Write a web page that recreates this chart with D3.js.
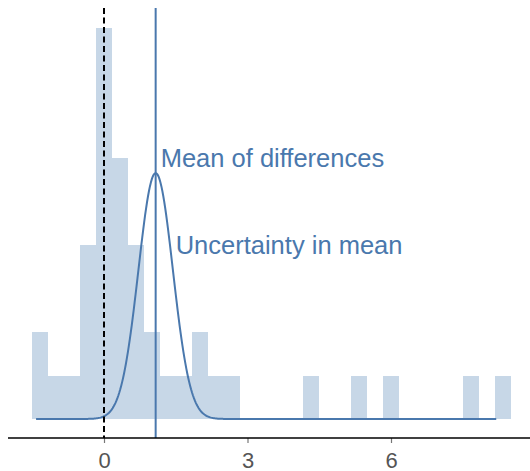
<!DOCTYPE html>
<html>
<head>
<meta charset="utf-8">
<script src="https://cdn.jsdelivr.net/npm/d3@7"></script>
<style>
  body { margin: 0; background: #fff; }
  svg { display: block; font-family: "Liberation Sans", Arial, sans-serif; }
</style>
</head>
<body>
<div id="chart"></div>
<script>
// histogram of differences: left edge of each bin and its count (bin width 1/3)
let binStarts = [-1.5, -1.1667, -0.8333, -0.5, -0.1667, 0.1667, 0.5, 0.8333, 1.1667, 1.5, 1.8333, 2.1667, 2.5, 4.1667, 5.1667, 5.8333, 7.5, 8.1667];
let binCounts = [2, 1, 1, 4, 9, 6, 4, 2, 1, 1, 2, 1, 1, 1, 1, 1, 1, 1];
let binWidth = 1 / 3;

// mean of the differences and its standard error
let meanDiff = 1.08;
let seMean = 0.36;
let curvePeak = 5.66;        // height of the uncertainty curve, in count units
let curveRange = [-1.42, 8.2];

let tickValues = [0, 3, 6];

let blue = "#4a78ad";
let barFill = "#c7d7e7";

let width = 530, height = 471;

let svg = d3.select("#chart").append("svg")
    .attr("width", width)
    .attr("height", height);

let x = d3.scaleLinear().domain([0, 6]).range([104, 391]);
let y = d3.scaleLinear().domain([0, 9]).range([419, 28]);

// bars
svg.selectAll("rect.bar").data(binStarts)
    .enter()
    .append("rect")
    .attr("class", "bar")
    .attr("x", d => x(d))
    .attr("width", d => x(d + binWidth) - x(d))
    .attr("y", (d, i) => y(binCounts[i]))
    .attr("height", (d, i) => y(0) - y(binCounts[i]))
    .attr("fill", barFill)
    .attr("shape-rendering", "crispEdges");

// uncertainty curve (normal density around the mean)
let curvePts = d3.range(curveRange[0], curveRange[1] + 0.001, 0.02).map(v => ({
    x: v,
    y: curvePeak * Math.exp(-((v - meanDiff) ** 2) / (2 * seMean * seMean))
}));

svg.append("path")
    .datum(curvePts)
    .attr("fill", "none")
    .attr("stroke", blue)
    .attr("stroke-width", 2)
    .attr("d", d3.line().x(d => x(d.x)).y(d => y(d.y)));

// zero line
svg.append("line")
    .attr("x1", x(0)).attr("x2", x(0))
    .attr("y1", 8).attr("y2", 438)
    .attr("stroke", "#000")
    .attr("stroke-width", 2)
    .attr("stroke-dasharray", "6,3.5");

// mean line
svg.append("line")
    .attr("x1", x(meanDiff)).attr("x2", x(meanDiff))
    .attr("y1", 8).attr("y2", 438)
    .attr("stroke", blue)
    .attr("stroke-width", 2);

// axis
let xAxis = d3.axisBottom(x)
    .tickValues(tickValues)
    .tickFormat(d3.format("d"))
    .tickSize(5)
    .tickSizeOuter(0);

let gx = svg.append("g")
    .attr("transform", "translate(0,438)")
    .call(xAxis);
gx.select(".domain").remove();
gx.selectAll(".tick line").attr("stroke", "#777").attr("stroke-width", 1.2);
gx.selectAll(".tick text")
    .attr("fill", "#555")
    .attr("font-size", 22)
    .attr("font-family", "Liberation Sans, Arial, sans-serif")
    .attr("dy", null)
    .attr("y", 30);

svg.append("line")
    .attr("x1", 8).attr("x2", width)
    .attr("y1", 438).attr("y2", 438)
    .attr("stroke", "#000")
    .attr("stroke-width", 1.6);

// labels
svg.append("text")
    .attr("x", x(meanDiff) + 5)
    .attr("y", 167)
    .attr("fill", blue)
    .attr("font-size", 25.5)
    .text("Mean of differences");

svg.append("text")
    .attr("x", x(meanDiff) + 20)
    .attr("y", 254)
    .attr("fill", blue)
    .attr("font-size", 25.5)
    .text("Uncertainty in mean");
</script>
</body>
</html>
